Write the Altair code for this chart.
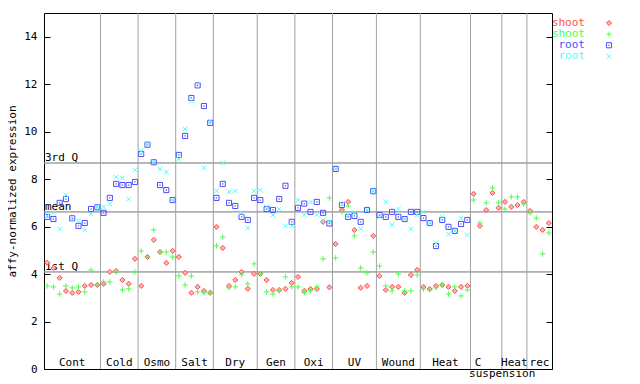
import altair as alt
import pandas as pd

# ---------------- data ----------------
groups = ["Cont", "Cold", "Osmo", "Salt", "Dry", "Gen", "Oxi", "UV", "Wound",
          "Heat", "C suspension", "Heat", "rec"]
counts = [9, 6, 6, 6, 7, 6, 6, 7, 7, 8, 5, 4, 4]

shoot_red = [
    4.48, 4.26, 3.84, 3.29, 3.21, 3.25, 3.50, 3.54, 3.54,
    3.59, 4.09, 4.13, 3.75, 3.59, 4.64,
    3.50, 4.72, 5.44, 4.93, 4.47, 4.98,
    4.72, 4.05, 3.21, 3.46, 3.29, 3.21,
    5.99, 5.10, 3.50, 3.75, 4.09, 3.38, 4.01,
    4.01, 3.75, 3.33, 3.33, 3.38, 3.63,
    3.88, 3.29, 3.37, 3.37, 6.20, 3.44,
    5.27, 6.70, 7.04, 5.86, 3.42, 3.50, 5.61,
    3.92, 3.33, 3.46, 3.46, 3.21, 3.96, 4.18,
    3.46, 3.37, 3.50, 3.54, 3.46, 3.29, 3.46, 3.50,
    7.38, 6.03, 6.70, 7.42, 6.79,
    7.04, 6.83, 6.91, 7.04,
    6.66, 5.99, 5.86, 6.15,
]
shoot_green = [
    3.50, 3.46, 3.16, 3.50, 3.42, 3.46, 3.25, 4.17, 3.54,
    3.67, 3.67, 4.09, 3.33, 3.38, 4.09,
    4.97, 4.72, 5.86, 4.93, 4.93, 4.72,
    3.92, 3.54, 3.92, 3.25, 3.21, 3.25,
    5.19, 5.56, 3.42, 3.46, 3.97, 3.59, 4.43,
    4.01, 3.25, 3.16, 3.29, 3.88, 3.46,
    3.46, 3.21, 3.29, 3.46, 4.64, 7.21,
    4.68, 6.62, 6.87, 5.61, 4.26, 4.05, 4.93,
    4.34, 3.50, 3.29, 4.00, 3.29, 3.29, 3.96,
    3.37, 3.33, 3.42, 3.54, 3.16, 3.46, 3.08, 3.33,
    7.12, 6.15, 7.00, 7.63, 7.00,
    6.74, 7.25, 7.25, 6.95,
    6.57, 6.36, 4.85, 5.73,
]
root_blue = [
    6.41, 6.32, 7.00, 7.16, 6.35, 6.03, 6.15, 6.74, 6.81,
    6.58, 7.21, 7.80, 7.75, 7.75, 7.88,
    9.06, 9.45, 8.71, 7.75, 7.54, 7.12,
    9.02, 9.82, 11.42, 11.95, 11.08, 10.37,
    7.21, 7.80, 7.00, 6.87, 6.41, 6.28, 7.21,
    7.12, 6.74, 6.70, 7.16, 7.72, 6.20,
    6.79, 6.97, 6.62, 7.04, 6.58, 6.13,
    8.43, 6.91, 6.41, 6.45, 6.20, 6.70, 7.49,
    6.49, 6.41, 6.62, 6.41, 6.32, 6.62, 6.62,
    6.36, 6.15, 5.18, 6.28, 5.99, 5.82, 6.11, 6.28,
]
root_cyan = [
    6.45, 6.58, 5.90, 7.33, 6.29, 6.24, 5.86, 6.53, 6.81,
    6.83, 6.95, 8.09, 8.05, 7.16, 8.39,
    9.18, 9.48, 8.72, 8.43, 8.30, 7.12,
    8.85, 10.11, 11.29, 11.99, 8.47, 10.45,
    7.50, 8.68, 7.46, 7.50, 6.58, 5.94, 7.50,
    7.54, 6.83, 6.49, 6.74, 6.03, 6.03,
    7.12, 6.49, 7.04, 6.49, 6.27, 6.20,
    8.43, 6.95, 6.49, 6.58, 5.90, 6.70, 7.49,
    6.41, 7.04, 6.07, 6.75, 6.32, 5.90, 6.49,
    6.62, 6.15, 5.31, 6.41, 5.69, 5.82, 6.36, 5.65,
]
quart_names = ["1st Q", "mean", "3rd Q"]
quart_values = [4.09, 6.62, 8.68]
y_ticks = [0, 2, 4, 6, 8, 10, 12, 14]
legend_labels = ["shoot", "shoot", "root", "root"]

# ---------------- styling ----------------
FONT = "DejaVu Sans Mono"
RED, GREEN, BLUE, CYAN = "#ff4c4c", "#4cff4c", "#4c4cff", "#4cffff"
GRAY = "#a0a0a0"
DIAMOND = "M0,-1L1,0L0,1L-1,0Z"
PLUS = "M-1,0L1,0M0,-1L0,1"
SQUARE = "M-1,-1L1,-1L1,1L-1,1Z"
CROSS = "M-1,-1L1,1M-1,1L1,-1"
W, H = 508, 356

n = sum(counts)
starts, s = [], 1
for c in counts:
    starts.append(s)
    s += c
ends = [a + c - 1 for a, c in zip(starts, counts)]
centers = [(a + b) / 2 for a, b in zip(starts, ends)]
bounds = [e + 0.5 for e in ends[:-1]]

xs = alt.Scale(domain=[0.5, n + 0.5], nice=False, zero=False)
ys = alt.Scale(domain=[0, 15], nice=False, zero=True)


def sdf(vals):
    return pd.DataFrame({"sample": list(range(1, len(vals) + 1)), "value": vals})


def X():
    return alt.X("sample:Q", scale=xs, axis=None)


def Y():
    return alt.Y("value:Q", scale=ys, axis=None)


series = [
    (shoot_red, RED, DIAMOND, 26, "#ffb0b0"),
    (shoot_green, GREEN, PLUS, 30, None),
    (root_blue, BLUE, SQUARE, 26, None),
    (root_cyan, CYAN, CROSS, 22, None),
]


def point_mark(data, color, shape, size, fill):
    if fill:
        return alt.Chart(data).mark_point(shape=shape, size=size, filled=True, fill=fill,
                                          stroke=color, strokeWidth=1, opacity=1)
    return alt.Chart(data).mark_point(shape=shape, size=size, filled=False, color=color,
                                      strokeWidth=1, opacity=1)


layers = []

# vertical group separators
bdf = pd.DataFrame({"b": bounds})
layers.append(alt.Chart(bdf).mark_rule(color=GRAY, strokeWidth=1).encode(
    x=alt.X("b:Q", scale=xs, axis=None)))

# quartile lines with left axis
qdf = pd.DataFrame({"name": quart_names, "value": quart_values})
layers.append(alt.Chart(qdf).mark_rule(color=GRAY, strokeWidth=1).encode(
    y=alt.Y("value:Q", scale=ys, axis=alt.Axis(
        orient="left", values=y_ticks, offset=-6, tickSize=6, tickColor="black",
        domain=False, grid=False, labelPadding=7, labelFont=FONT, labelFontSize=11,
        labelColor="black", title="affy-normalized expression", titleFont=FONT,
        titleFontSize=11, titleFontWeight="normal", titleColor="black",
        titlePadding=6))))
# right ticks
layers.append(alt.Chart(qdf).mark_rule(color=GRAY, strokeWidth=1).encode(
    y=alt.Y("value:Q", scale=ys, axis=alt.Axis(
        orient="right", values=y_ticks, offset=-6, tickSize=6, tickColor="black",
        domain=False, grid=False, labels=False, title=None))))
# quartile labels
layers.append(alt.Chart(qdf).mark_text(
    align="left", baseline="alphabetic", dx=1, dy=-2, font=FONT, fontSize=11,
    color="black").encode(x=alt.value(0), y=alt.Y("value:Q", scale=ys, axis=None),
                          text="name:N"))

# group labels
single = [(c, g) for c, g in zip(centers, groups) if " " not in g]
multi = [(c, g) for c, g in zip(centers, groups) if " " in g]
ldf = pd.DataFrame({"center": [c for c, _ in single], "label": [g for _, g in single]})
layers.append(alt.Chart(ldf).mark_text(
    align="center", baseline="alphabetic", font=FONT, fontSize=11, color="black").encode(
    x=alt.X("center:Q", scale=xs, axis=None), y=alt.value(H - 3), text="label:N"))
mdf = pd.DataFrame({"center": [c for c, _ in multi],
                    "first": [g.split(" ")[0] for _, g in multi],
                    "rest": [" ".join(g.split(" ")[1:]) for _, g in multi]})
layers.append(alt.Chart(mdf).mark_text(
    align="center", baseline="alphabetic", dx=-8, font=FONT, fontSize=11, color="black").encode(
    x=alt.X("center:Q", scale=xs, axis=None), y=alt.value(H - 3), text="first:N"))
layers.append(alt.Chart(mdf).mark_text(
    align="center", baseline="alphabetic", dx=16, font=FONT, fontSize=11, color="black").encode(
    x=alt.X("center:Q", scale=xs, axis=None), y=alt.value(H + 8), text="rest:N"))

# data points
for vals, color, shape, size, fill in series:
    layers.append(point_mark(sdf(vals), color, shape, size, fill).encode(x=X(), y=Y()))
    if shape == SQUARE:
        layers.append(alt.Chart(sdf(vals)).mark_point(
            shape="square", size=1.5, filled=True, color=color, opacity=1).encode(x=X(), y=Y()))

# legend (custom, right of plot)
leg_rows = list(range(len(legend_labels)))
ly = alt.Scale(domain=[0, len(legend_labels) - 1], range=[10, 43.4])
for i, (lab, (vals, color, shape, size, fill)) in enumerate(zip(legend_labels, series)):
    d = pd.DataFrame({"row": [leg_rows[i]], "label": [lab]})
    layers.append(alt.Chart(d).mark_text(
        align="right", baseline="middle", font=FONT, fontSize=11, color=color).encode(
        x=alt.value(W + 33), y=alt.Y("row:Q", scale=ly, axis=None), text="label:N"))
    layers.append(point_mark(d, color, shape, size, fill).encode(
        x=alt.value(W + 57), y=alt.Y("row:Q", scale=ly, axis=None)))
    if shape == SQUARE:
        layers.append(alt.Chart(d).mark_point(
            shape="square", size=1.5, filled=True, color=color, opacity=1).encode(
            x=alt.value(W + 57), y=alt.Y("row:Q", scale=ly, axis=None)))

chart = alt.layer(*layers).resolve_scale(y="independent", x="independent").properties(
    width=W, height=H,
    autosize=alt.AutoSizeParams(type="none"),
    padding={"left": 36, "top": 5, "right": 80, "bottom": 15},
    background="white",
).configure_view(stroke="black", strokeWidth=1)

chart.save("out.html", embed_options={"renderer": "svg", "actions": False})
